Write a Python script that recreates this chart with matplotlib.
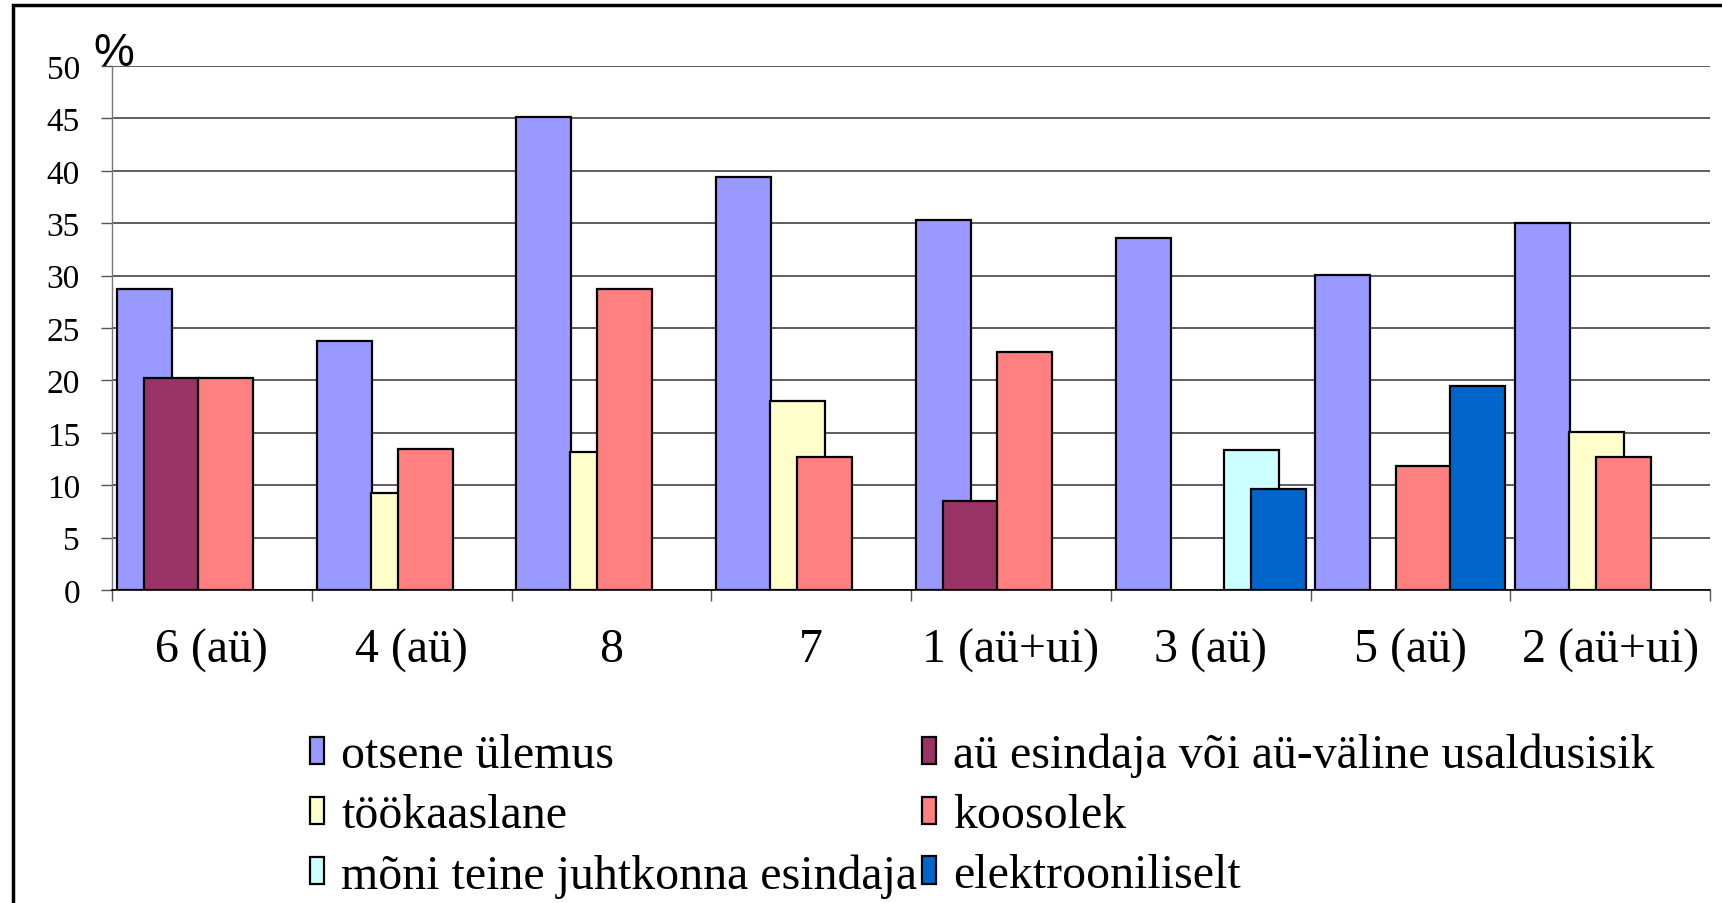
import matplotlib
matplotlib.use("Agg")
import matplotlib.pyplot as plt
from matplotlib.patches import Rectangle
import numpy as np

# categories (groups) and series values, in %
groups = ['6 (aü)', '4 (aü)', '8', '7', '1 (aü+ui)', '3 (aü)', '5 (aü)', '2 (aü+ui)']
series_names = ['otsene ülemus', 'aü esindaja või aü-väline usaldusisik', 'töökaaslane',
                'koosolek', 'mõni teine juhtkonna esindaja', 'elektrooniliselt']
otsene = [28.7, 23.8, 45.1, 39.4, 35.3, 33.6, 30.1, 35.0]
au_esindaja = [20.2, 0, 0, 0, 8.5, 0, 0, 0]
tookaaslane = [0, 9.3, 13.2, 18.0, 0, 0, 0, 15.1]
koosolek = [20.2, 13.5, 28.7, 12.7, 22.7, 0, 11.8, 12.7]
moni_teine = [0, 0, 0, 0, 0, 13.4, 0, 0]
elektr = [0, 0, 0, 0, 0, 9.6, 19.5, 0]
colors = ['#9999FF', '#993366', '#FFFFCC', '#FF8080', '#CCFFFF', '#0066CC']
yticks = [0, 5, 10, 15, 20, 25, 30, 35, 40, 45, 50]

all_series = [otsene, au_esindaja, tookaaslane, koosolek, moni_teine, elektr]

serif = 'Liberation Serif'
fig = plt.figure(figsize=(17.22, 9.04), dpi=100)
ax = fig.add_axes([112/1722, 1-591/904, (1710-112)/1722, (591-67)/904])

x = np.arange(len(groups))
w = 0.275
step = 0.135
start = -0.475
handles = []
for k, vals in enumerate(all_series):
    vals = np.array(vals, dtype=float)
    m = vals > 0
    b = ax.bar(x[m] + start + k*step, vals[m], width=w, align='edge',
               color=colors[k], edgecolor='black', linewidth=1.6, zorder=3+k,
               label=series_names[k])
    handles.append(b)

ax.set_xlim(-0.5, len(groups)-0.5)
ax.set_ylim(0, 50)
ax.set_yticks(yticks)
ax.set_yticklabels([str(t) for t in yticks], fontfamily=serif, fontsize=24)
ax.yaxis.grid(True, color='#333333', linewidth=1.1, zorder=0)
ax.set_axisbelow(True)
ax.tick_params(axis='y', length=8, width=1, color='#555555', pad=15)

ax.set_xticks(x)
ax.set_xticklabels(groups, fontfamily=serif, fontsize=34.5)
ax.set_xticks(np.arange(-0.5, len(groups)), minor=True)
ax.tick_params(axis='x', which='major', length=0, pad=27)
ax.tick_params(axis='x', which='minor', length=8, width=1, color='#555555')

for s in ['top', 'right']:
    ax.spines[s].set_visible(False)
ax.spines['left'].set_color('#777777')
ax.spines['left'].set_linewidth(1)
ax.spines['bottom'].set_color('black')
ax.spines['bottom'].set_linewidth(1.2)

fig.text(93/1722, 1-66/904, '%', family='Liberation Sans', fontsize=33,
         ha='left', va='baseline')

order = [0, 2, 4, 1, 3, 5]
leg = fig.legend([handles[i] for i in order], [series_names[i] for i in order],
                 ncol=2, loc='upper left', bbox_to_anchor=(310/1722, 1-734/904),
                 frameon=False, prop={'family': serif, 'size': 34.5},
                 handlelength=0.3, handleheight=0.5, handletextpad=0.35,
                 columnspacing=0.1, labelspacing=0.33, borderpad=0,
                 borderaxespad=0)

# outer frame of the chart (left and top edges visible)
fig.add_artist(Rectangle((13/1722, -0.2), 1.2, 1.2 - 6/904, transform=fig.transFigure,
                         fill=False, edgecolor='black', linewidth=2.5))

fig.savefig('out.png', dpi=100)
